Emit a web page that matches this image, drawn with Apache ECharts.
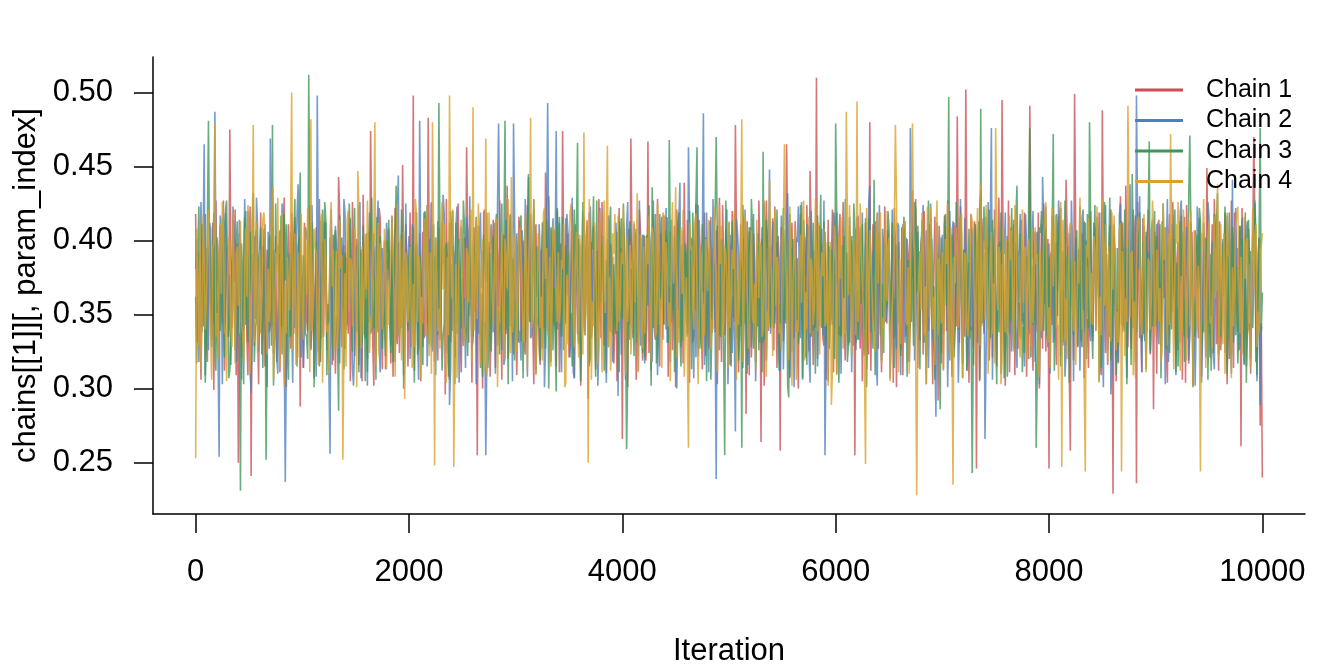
<!DOCTYPE html>
<html>
<head>
<meta charset="utf-8">
<script src="https://cdn.jsdelivr.net/npm/echarts@6/dist/echarts.min.js"></script>
<style>
html,body{margin:0;padding:0;background:#fff;}
#chart{width:1344px;height:672px;}
</style>
</head>
<body>
<div id="chart"></div>
<script>
// Thinned trace values, read/.
// chainN     : values at iterations 0, 20, 40, ... 10000
// chainNMid  : values at iterations 10, 30, 50, ... 9990
const iterationStep = 20;
const chainNames = ['Chain 1', 'Chain 2', 'Chain 3', 'Chain 4'];
const xTickValues = [0, 2000, 4000, 6000, 8000, 10000];
const yTickValues = [0.25, 0.30, 0.35, 0.40, 0.45, 0.50];

const chain1 = [
0.418,0.381,0.346,0.402,0.367,0.331,0.389,0.356,0.412,0.374,
0.338,0.395,0.362,0.427,0.349,0.383,0.475,0.341,0.372,0.309,
0.250,0.386,0.358,0.415,0.334,0.392,0.241,0.369,0.401,0.345,
0.377,0.323,0.408,0.361,0.384,0.342,0.436,0.355,0.318,0.391,
0.366,0.404,0.329,0.381,0.352,0.419,0.337,0.373,0.396,0.288,
0.359,0.412,0.347,0.385,0.326,0.398,0.364,0.341,0.428,0.371,
0.335,0.389,0.357,0.402,0.316,0.376,0.349,0.443,0.362,0.393,
0.327,0.368,0.411,0.353,0.384,0.339,0.397,0.361,0.305,0.378,
0.345,0.406,0.474,0.332,0.391,0.358,0.422,0.347,0.379,0.313,
0.386,0.353,0.417,0.368,0.337,0.399,0.362,0.451,0.344,0.381,
0.359,0.328,0.498,0.373,0.346,0.405,0.361,0.334,0.392,0.483,
0.342,0.387,0.318,0.371,0.409,0.353,0.384,0.296,0.366,0.412,
0.348,0.391,0.357,0.425,0.339,0.374,0.402,0.463,0.331,0.368,
0.396,0.352,0.255,0.383,0.364,0.419,0.341,0.377,0.308,0.389,
0.357,0.412,0.336,0.372,0.398,0.345,0.437,0.361,0.384,0.323,
0.376,0.349,0.403,0.367,0.331,0.391,0.354,0.418,0.342,0.385,
0.362,0.327,0.394,0.371,0.446,0.339,0.381,0.353,0.407,0.315,
0.374,0.398,0.474,0.346,0.363,0.321,0.389,0.356,0.411,0.337,
0.382,0.351,0.416,0.368,0.293,0.397,0.343,0.375,0.361,0.428,
0.334,0.386,0.358,0.401,0.345,0.372,0.317,0.393,0.364,0.349,
0.266,0.391,0.354,0.408,0.469,0.337,0.379,0.362,0.421,0.346,
0.383,0.319,0.467,0.369,0.395,0.341,0.374,0.352,0.405,0.333,
0.371,0.416,0.348,0.387,0.362,0.301,0.393,0.356,0.378,0.439,
0.343,0.369,0.402,0.331,0.385,0.357,0.414,0.346,0.374,0.322,
0.395,0.361,0.338,0.382,0.407,0.352,0.371,0.424,0.336,0.389,
0.357,0.315,0.392,0.478,0.344,0.379,0.363,0.401,0.283,0.372,
0.409,0.348,0.386,0.361,0.427,0.264,0.375,0.339,0.396,0.354,
0.382,0.326,0.369,0.403,0.258,0.391,0.351,0.465,0.342,0.378,
0.364,0.413,0.337,0.384,0.356,0.398,0.321,0.372,0.447,0.349,
0.393,0.510,0.358,0.381,0.334,0.406,0.367,0.345,0.389,0.311,
0.375,0.352,0.418,0.363,0.339,0.387,0.356,0.401,0.329,0.255,
0.384,0.347,0.395,0.366,0.412,0.338,0.480,0.371,0.353,0.392,
0.327,0.379,0.358,0.423,0.344,0.386,0.362,0.304,0.397,0.368,
0.351,0.409,0.376,0.335,0.391,0.357,0.434,0.342,0.383,0.366,
0.398,0.323,0.372,0.355,0.411,0.346,0.381,0.363,0.292,0.388,
0.361,0.417,0.339,0.375,0.402,0.353,0.386,0.484,0.331,0.367,
0.394,0.502,0.348,0.382,0.359,0.413,0.246,0.371,0.337,0.396,
0.355,0.381,0.319,0.404,0.368,0.345,0.391,0.362,0.495,0.336,
0.373,0.427,0.352,0.389,0.309,0.376,0.358,0.414,0.343,0.385,
0.366,0.491,0.338,0.397,0.354,0.419,0.371,0.327,0.383,0.359,
0.246,0.392,0.364,0.345,0.408,0.372,0.336,0.386,0.441,0.353,
0.258,0.378,0.499,0.357,0.393,0.332,0.369,0.412,0.347,0.384,
0.361,0.405,0.339,0.374,0.316,0.488,0.356,0.391,0.367,0.421,
0.229,0.382,0.354,0.398,0.343,0.371,0.437,0.328,0.389,0.362,
0.401,0.236,0.376,0.352,0.415,0.364,0.338,0.393,0.357,0.286,
0.372,0.411,0.346,0.384,0.361,0.329,0.397,0.355,0.426,0.341,
0.388,0.352,0.417,0.369,0.304,0.383,0.345,0.406,0.363,0.375,
0.334,0.396,0.358,0.381,0.449,0.347,0.371,0.324,0.392,0.366,
0.413,0.343,0.385,0.357,0.398,0.331,0.374,0.419,0.352,0.389,
0.261,0.367,0.404,0.339,0.382,0.356,0.470,0.318,0.391,0.275,
0.240
];
const chain1Mid = [
0.331,0.392,0.306,0.342,0.418,0.318,0.401,0.337,0.299,0.427,
0.326,0.410,0.344,0.312,0.396,0.335,0.389,0.414,0.421,0.398,
0.405,0.321,0.340,0.388,0.309,0.423,0.391,0.329,0.407,0.303,
0.419,0.345,0.315,0.394,0.338,0.386,0.324,0.403,0.333,0.311,
0.342,0.429,0.301,0.411,0.327,0.395,0.416,0.336,0.402,0.390,
0.314,0.387,0.339,0.424,0.343,0.307,0.409,0.325,0.318,0.399,
0.413,0.332,0.344,0.393,0.404,0.310,0.341,0.420,0.328,0.397,
0.389,0.337,0.305,0.426,0.322,0.401,0.316,0.392,0.431,0.334,
0.320,0.345,0.408,0.302,0.396,0.338,0.415,0.313,0.400,0.343,
0.394,0.317,0.308,0.422,0.330,0.324,0.341,0.388,0.411,0.315,
0.419,0.339,0.312,0.398,0.327,0.305,0.406,0.336,0.344,0.391,
0.425,0.387,0.402,0.319,0.333,0.412,0.395,0.428,0.308,0.331,
0.397,0.321,0.343,0.389,0.311,0.329,0.338,0.403,0.417,0.304,
0.409,0.393,0.386,0.335,0.300,0.421,0.325,0.399,0.342,0.414,
0.314,0.390,0.427,0.306,0.404,0.337,0.320,0.418,0.340,0.392,
0.309,0.416,0.332,0.400,0.323,0.424,0.345,0.388,0.303,0.411,
0.396,0.316,0.327,0.341,0.410,0.430,0.318,0.344,0.387,0.420,
0.311,0.336,0.394,0.415,0.405,0.328,0.423,0.307,0.391,0.401,
0.302,0.398,0.339,0.413,0.419,0.334,0.408,0.313,0.345,0.393,
0.426,0.329,0.310,0.402,0.338,0.389,0.342,0.305,0.422,0.395,
0.412,0.331,0.301,0.343,0.399,0.388,0.306,0.337,0.407,0.319,
0.403,0.344,0.324,0.312,0.418,0.333,0.428,0.315,0.392,0.417,
0.340,0.308,0.406,0.326,0.410,0.421,0.341,0.397,0.317,0.386,
0.414,0.304,0.400,0.335,0.425,0.322,0.391,0.313,0.419,0.343,
0.327,0.416,0.395,0.338,0.303,0.429,0.318,0.388,0.408,0.330,
0.398,0.420,0.345,0.404,0.311,0.411,0.336,0.394,0.413,0.309,
0.321,0.405,0.328,0.342,0.390,0.401,0.302,0.427,0.339,0.396,
0.415,0.423,0.314,0.387,0.409,0.332,0.344,0.399,0.307,0.412,
0.334,0.393,0.300,0.418,0.337,0.402,0.424,0.325,0.406,0.316,
0.341,0.320,0.410,0.397,0.329,0.306,0.414,0.343,0.421,0.389,
0.310,0.403,0.335,0.426,0.319,0.392,0.331,0.386,0.400,0.408,
0.417,0.327,0.305,0.340,0.395,0.323,0.312,0.411,0.338,0.419,
0.396,0.311,0.344,0.391,0.407,0.336,0.404,0.422,0.301,0.399,
0.326,0.309,0.413,0.401,0.318,0.345,0.388,0.428,0.314,0.333,
0.405,0.420,0.322,0.339,0.393,0.303,0.416,0.398,0.410,0.324,
0.313,0.402,0.427,0.331,0.308,0.412,0.342,0.387,0.423,0.317,
0.335,0.390,0.304,0.418,0.328,0.409,0.400,0.306,0.415,0.337,
0.407,0.396,0.344,0.321,0.421,0.315,0.429,0.330,0.394,0.302,
0.341,0.311,0.403,0.414,0.399,0.327,0.334,0.392,0.419,0.308,
0.320,0.413,0.312,0.406,0.338,0.300,0.411,0.425,0.325,0.401,
0.389,0.343,0.398,0.316,0.417,0.422,0.329,0.336,0.404,0.313,
0.410,0.319,0.408,0.328,0.395,0.405,0.307,0.342,0.314,0.420,
0.332,0.397,0.393,0.419,0.309,0.386,0.324,0.316,0.335,0.402,
0.404,0.305,0.318,0.430,0.412,0.339,0.400,0.413,0.327,0.341,
0.417,0.426,0.334,0.311,0.337,0.403,0.421,0.323,0.391,0.406,
0.310,0.414,0.329,0.394,0.409,0.304,0.418,0.340,0.399,0.322,
0.399,0.331,0.306,0.416,0.424,0.317,0.345,0.302,0.407,0.398,
0.415,0.308,0.401,0.336,0.390,0.321,0.411,0.428,0.330,0.312,
0.326,0.389,0.419,0.303,0.320,0.427,0.314,0.405,0.338,0.410,
0.422,0.333,0.315,0.408,0.310,0.395,0.412,0.326,0.402,0.344
];
const chain2 = [
0.381,0.352,0.397,0.338,0.465,0.371,0.326,0.408,0.359,0.487,
0.344,0.254,0.386,0.363,0.419,0.335,0.377,0.351,0.402,0.318,
0.369,0.392,0.341,0.428,0.356,0.383,0.297,0.374,0.347,0.411,
0.362,0.337,0.389,0.353,0.406,0.469,0.342,0.378,0.321,0.395,
0.358,0.413,0.237,0.384,0.366,0.344,0.399,0.372,0.438,0.339,
0.376,0.348,0.404,0.361,0.327,0.391,0.355,0.498,0.368,0.334,
0.387,0.412,0.349,0.256,0.381,0.363,0.397,0.331,0.372,0.354,
0.418,0.343,0.379,0.358,0.302,0.393,0.367,0.426,0.345,0.382,
0.361,0.398,0.337,0.374,0.352,0.409,0.329,0.386,0.363,0.344,
0.392,0.357,0.415,0.338,0.376,0.444,0.351,0.383,0.319,0.369,
0.403,0.346,0.372,0.391,0.335,0.481,0.358,0.381,0.412,0.341,
0.367,0.325,0.389,0.354,0.398,0.362,0.431,0.347,0.376,0.289,
0.384,0.356,0.409,0.371,0.338,0.393,0.361,0.416,0.349,0.375,
0.332,0.387,0.354,0.401,0.368,0.343,0.255,0.379,0.396,0.357,
0.412,0.346,0.479,0.365,0.383,0.321,0.394,0.358,0.373,0.479,
0.352,0.386,0.339,0.407,0.362,0.378,0.445,0.334,0.369,0.391,
0.348,0.411,0.357,0.381,0.326,0.493,0.364,0.398,0.342,0.474,
0.371,0.336,0.392,0.355,0.418,0.367,0.383,0.311,0.376,0.353,
0.397,0.362,0.342,0.385,0.358,0.423,0.347,0.374,0.393,0.328,
0.366,0.403,0.351,0.379,0.339,0.391,0.357,0.412,0.295,0.374,
0.388,0.345,0.408,0.363,0.381,0.334,0.396,0.352,0.427,0.361,
0.343,0.377,0.356,0.399,0.318,0.384,0.366,0.348,0.405,0.372,
0.395,0.331,0.369,0.414,0.353,0.387,0.342,0.439,0.361,0.378,
0.354,0.463,0.382,0.339,0.401,0.365,0.327,0.392,0.486,0.348,
0.376,0.413,0.352,0.386,0.239,0.371,0.397,0.344,0.368,0.421,
0.337,0.389,0.362,0.271,0.405,0.353,0.381,0.346,0.393,0.316,
0.374,0.358,0.417,0.342,0.385,0.369,0.331,0.402,0.356,0.448,
0.363,0.394,0.345,0.378,0.312,0.389,0.352,0.411,0.367,0.338,
0.382,0.354,0.399,0.371,0.426,0.343,0.376,0.359,0.304,0.393,
0.348,0.407,0.365,0.384,0.336,0.255,0.372,0.396,0.351,0.419,
0.369,0.338,0.387,0.356,0.403,0.374,0.329,0.391,0.362,0.345,
0.416,0.359,0.381,0.342,0.397,0.366,0.437,0.353,0.378,0.322,
0.385,0.347,0.408,0.371,0.354,0.392,0.333,0.379,0.361,0.412,
0.351,0.386,0.367,0.402,0.344,0.476,0.375,0.319,0.393,0.358,
0.371,0.424,0.346,0.384,0.363,0.398,0.337,0.281,0.389,0.355,
0.404,0.361,0.392,0.348,0.377,0.413,0.352,0.386,0.339,0.372,
0.357,0.395,0.323,0.369,0.408,0.346,0.381,0.362,0.434,0.343,
0.266,0.377,0.355,0.476,0.386,0.341,0.372,0.399,0.358,0.391,
0.345,0.382,0.409,0.352,0.367,0.314,0.394,0.374,0.351,0.418,
0.363,0.337,0.388,0.365,0.402,0.349,0.376,0.443,0.357,0.384,
0.398,0.353,0.331,0.391,0.366,0.411,0.345,0.379,0.307,0.372,
0.356,0.396,0.369,0.343,0.387,0.362,0.421,0.351,0.382,0.339,
0.377,0.412,0.348,0.391,0.358,0.335,0.404,0.367,0.384,0.296,
0.362,0.389,0.351,0.417,0.373,0.343,0.395,0.358,0.438,0.366,
0.347,0.498,0.381,0.356,0.399,0.332,0.374,0.364,0.407,0.352,
0.386,0.341,0.372,0.413,0.355,0.392,0.318,0.378,0.361,0.401,
0.354,0.383,0.427,0.346,0.369,0.395,0.337,0.388,0.362,0.345,
0.408,0.365,0.339,0.382,0.353,0.416,0.371,0.324,0.394,0.357,
0.374,0.348,0.402,0.363,0.387,0.335,0.441,0.359,0.381,0.326,
0.396,0.352,0.378,0.413,0.344,0.367,0.391,0.338,0.357,0.289,
0.341
];
const chain2Mid = [
0.401,0.318,0.426,0.337,0.309,0.395,0.412,0.328,0.344,0.389,
0.322,0.417,0.303,0.408,0.391,0.340,0.316,0.423,0.398,0.331,
0.414,0.306,0.386,0.343,0.420,0.312,0.335,0.403,0.429,0.325,
0.338,0.396,0.411,0.301,0.327,0.418,0.394,0.345,0.310,0.407,
0.425,0.333,0.319,0.390,0.406,0.304,0.341,0.416,0.388,0.321,
0.314,0.409,0.399,0.332,0.424,0.339,0.308,0.392,0.413,0.342,
0.393,0.326,0.305,0.421,0.336,0.410,0.387,0.317,0.402,0.428,
0.345,0.400,0.415,0.313,0.330,0.397,0.422,0.307,0.389,0.334,
0.302,0.419,0.340,0.405,0.323,0.427,0.311,0.395,0.343,0.412,
0.408,0.329,0.392,0.318,0.416,0.337,0.404,0.300,0.425,0.386,
0.320,0.411,0.344,0.398,0.306,0.390,0.328,0.420,0.315,0.401,
0.426,0.335,0.309,0.413,0.341,0.396,0.418,0.324,0.399,0.312,
0.339,0.388,0.423,0.304,0.409,0.332,0.314,0.407,0.430,0.327,
0.396,0.303,0.337,0.419,0.393,0.345,0.322,0.389,0.411,0.338,
0.310,0.424,0.401,0.326,0.316,0.414,0.387,0.342,0.305,0.417,
0.405,0.331,0.319,0.394,0.428,0.308,0.403,0.336,0.421,0.313,
0.343,0.391,0.412,0.301,0.325,0.400,0.334,0.415,0.388,0.340,
0.416,0.311,0.387,0.344,0.406,0.321,0.429,0.307,0.397,0.330,
0.327,0.420,0.336,0.402,0.315,0.389,0.410,0.341,0.302,0.422,
0.390,0.339,0.304,0.417,0.398,0.318,0.345,0.392,0.413,0.323,
0.408,0.306,0.426,0.333,0.342,0.411,0.391,0.312,0.329,0.404,
0.317,0.395,0.409,0.323,0.427,0.335,0.309,0.418,0.386,0.344,
0.422,0.341,0.318,0.388,0.403,0.300,0.414,0.328,0.407,0.392,
0.335,0.412,0.393,0.307,0.321,0.424,0.337,0.399,0.316,0.419,
0.311,0.387,0.428,0.340,0.410,0.326,0.401,0.343,0.396,0.303,
0.404,0.324,0.338,0.415,0.389,0.342,0.314,0.421,0.331,0.406,
0.328,0.418,0.305,0.397,0.331,0.409,0.425,0.319,0.390,0.337,
0.413,0.344,0.399,0.320,0.417,0.313,0.388,0.432,0.308,0.395,
0.301,0.402,0.423,0.334,0.306,0.392,0.411,0.325,0.420,0.339,
0.391,0.315,0.342,0.408,0.427,0.330,0.305,0.397,0.343,0.414,
0.419,0.336,0.310,0.386,0.402,0.341,0.416,0.311,0.400,0.326,
0.333,0.405,0.419,0.322,0.313,0.426,0.338,0.393,0.413,0.302,
0.424,0.319,0.396,0.345,0.390,0.307,0.421,0.334,0.327,0.410,
0.309,0.411,0.331,0.403,0.318,0.417,0.389,0.340,0.406,0.393,
0.398,0.342,0.407,0.314,0.425,0.336,0.323,0.412,0.388,0.317,
0.337,0.394,0.301,0.420,0.399,0.327,0.410,0.304,0.428,0.341,
0.415,0.312,0.385,0.339,0.316,0.404,0.331,0.422,0.344,0.392,
0.321,0.426,0.414,0.306,0.408,0.343,0.396,0.310,0.401,0.419,
0.403,0.337,0.325,0.411,0.330,0.389,0.418,0.345,0.315,0.397,
0.344,0.391,0.420,0.318,0.406,0.303,0.334,0.413,0.423,0.328,
0.310,0.416,0.336,0.399,0.427,0.322,0.393,0.308,0.340,0.405,
0.427,0.305,0.402,0.329,0.312,0.415,0.338,0.400,0.387,0.332,
0.335,0.408,0.389,0.343,0.419,0.301,0.424,0.326,0.410,0.314,
0.400,0.322,0.317,0.425,0.394,0.339,0.307,0.418,0.333,0.421,
0.318,0.413,0.430,0.311,0.338,0.406,0.392,0.324,0.414,0.342,
0.411,0.330,0.341,0.397,0.303,0.428,0.317,0.401,0.386,0.309,
0.326,0.419,0.394,0.335,0.409,0.319,0.412,0.344,0.302,0.423,
0.392,0.304,0.412,0.321,0.426,0.337,0.399,0.313,0.418,0.336,
0.343,0.401,0.324,0.417,0.388,0.310,0.331,0.422,0.395,0.328,
0.415,0.316,0.407,0.340,0.320,0.403,0.427,0.305,0.391,0.341
];
const chain3 = [
0.362,0.394,0.347,0.411,0.373,0.336,0.481,0.358,0.389,0.327,
0.402,0.356,0.378,0.343,0.421,0.367,0.312,0.385,0.354,0.397,
0.338,0.231,0.376,0.409,0.351,0.388,0.364,0.432,0.342,0.371,
0.393,0.355,0.381,0.252,0.367,0.404,0.478,0.339,0.384,0.359,
0.417,0.346,0.373,0.325,0.392,0.361,0.403,0.348,0.379,0.446,
0.354,0.387,0.335,0.512,0.369,0.398,0.343,0.376,0.315,0.391,
0.363,0.414,0.352,0.384,0.337,0.401,0.368,0.285,0.379,0.356,
0.392,0.341,0.425,0.366,0.383,0.348,0.397,0.359,0.331,0.373,
0.405,0.362,0.387,0.343,0.376,0.416,0.351,0.389,0.364,0.322,
0.381,0.354,0.398,0.369,0.437,0.345,0.372,0.393,0.338,0.361,
0.386,0.347,0.409,0.375,0.323,0.391,0.356,0.419,0.367,0.342,
0.374,0.401,0.349,0.383,0.493,0.358,0.336,0.395,0.371,0.306,
0.389,0.363,0.412,0.347,0.378,0.355,0.428,0.341,0.384,0.369,
0.335,0.397,0.358,0.381,0.346,0.404,0.372,0.314,0.392,0.357,
0.374,0.418,0.352,0.385,0.339,0.481,0.366,0.395,0.348,0.383,
0.361,0.332,0.407,0.354,0.389,0.372,0.443,0.345,0.378,0.357,
0.396,0.344,0.371,0.413,0.327,0.386,0.359,0.402,0.368,0.298,
0.382,0.357,0.416,0.343,0.374,0.392,0.351,0.387,0.364,0.466,
0.339,0.381,0.355,0.403,0.368,0.321,0.394,0.346,0.427,0.372,
0.358,0.391,0.343,0.375,0.409,0.352,0.384,0.337,0.366,0.398,
0.347,0.383,0.259,0.371,0.412,0.356,0.395,0.331,0.378,0.362,
0.404,0.342,0.388,0.359,0.436,0.373,0.317,0.391,0.354,0.381,
0.366,0.397,0.468,0.345,0.379,0.358,0.411,0.336,0.387,0.363,
0.391,0.348,0.372,0.419,0.353,0.463,0.381,0.327,0.365,0.402,
0.356,0.384,0.343,0.397,0.470,0.371,0.335,0.389,0.255,0.376,
0.412,0.362,0.348,0.386,0.374,0.339,0.260,0.395,0.358,0.381,
0.344,0.408,0.367,0.389,0.326,0.375,0.460,0.352,0.398,0.363,
0.385,0.341,0.373,0.421,0.357,0.392,0.346,0.379,0.294,0.368,
0.401,0.355,0.388,0.342,0.377,0.414,0.361,0.396,0.338,0.372,
0.353,0.389,0.365,0.431,0.348,0.382,0.369,0.327,0.394,0.359,
0.479,0.374,0.342,0.397,0.361,0.386,0.318,0.378,0.352,0.408,
0.366,0.393,0.357,0.342,0.415,0.373,0.389,0.346,0.441,0.361,
0.384,0.336,0.371,0.398,0.355,0.409,0.362,0.381,0.313,0.394,
0.347,0.378,0.416,0.358,0.387,0.343,0.372,0.426,0.365,0.351,
0.392,0.361,0.338,0.383,0.354,0.401,0.369,0.345,0.388,0.286,
0.375,0.411,0.356,0.497,0.366,0.392,0.341,0.379,0.358,0.404,
0.352,0.387,0.369,0.334,0.243,0.381,0.357,0.413,0.489,0.346,
0.394,0.363,0.421,0.352,0.376,0.338,0.397,0.362,0.384,0.307,
0.371,0.399,0.345,0.386,0.358,0.437,0.364,0.391,0.342,0.377,
0.356,0.476,0.383,0.348,0.260,0.372,0.405,0.361,0.394,0.337,
0.388,0.352,0.472,0.376,0.349,0.412,0.365,0.383,0.329,0.396,
0.358,0.381,0.346,0.407,0.372,0.336,0.391,0.363,0.418,0.480,
0.347,0.385,0.362,0.399,0.339,0.374,0.426,0.355,0.388,0.319,
0.379,0.362,0.395,0.351,0.413,0.367,0.344,0.386,0.358,0.445,
0.371,0.338,0.393,0.364,0.381,0.347,0.404,0.467,0.356,0.389,
0.342,0.376,0.411,0.359,0.384,0.327,0.398,0.368,0.352,0.421,
0.385,0.349,0.372,0.406,0.361,0.334,0.471,0.381,0.357,0.393,
0.368,0.413,0.345,0.379,0.398,0.355,0.312,0.387,0.364,0.432,
0.351,0.384,0.362,0.396,0.343,0.375,0.409,0.357,0.382,0.338,
0.397,0.366,0.419,0.351,0.384,0.343,0.372,0.405,0.361,0.476,
0.365
];
const chain3Mid = [
0.317,0.423,0.341,0.396,0.304,0.410,0.388,0.333,0.419,0.312,
0.402,0.339,0.415,0.321,0.427,0.307,0.342,0.391,0.326,0.413,
0.336,0.398,0.303,0.420,0.331,0.406,0.414,0.318,0.345,0.387,
0.409,0.314,0.392,0.338,0.401,0.329,0.302,0.425,0.397,0.340,
0.323,0.418,0.411,0.306,0.335,0.393,0.428,0.315,0.404,0.343,
0.390,0.337,0.320,0.416,0.412,0.301,0.399,0.344,0.330,0.421,
0.426,0.309,0.345,0.389,0.319,0.407,0.332,0.417,0.386,0.313,
0.340,0.403,0.396,0.325,0.422,0.338,0.311,0.394,0.410,0.305,
0.311,0.388,0.429,0.341,0.306,0.415,0.403,0.327,0.342,0.400,
0.414,0.324,0.318,0.408,0.393,0.335,0.421,0.309,0.389,0.339,
0.397,0.343,0.304,0.419,0.326,0.391,0.316,0.413,0.424,0.330,
0.328,0.411,0.389,0.336,0.405,0.312,0.344,0.398,0.317,0.420,
0.420,0.303,0.337,0.401,0.341,0.427,0.392,0.322,0.408,0.345,
0.334,0.416,0.410,0.314,0.308,0.394,0.419,0.338,0.325,0.403,
0.406,0.329,0.323,0.425,0.399,0.340,0.303,0.417,0.388,0.319,
0.342,0.395,0.417,0.307,0.331,0.412,0.396,0.344,0.428,0.310,
0.389,0.319,0.402,0.343,0.414,0.300,0.409,0.326,0.336,0.422,
0.412,0.335,0.326,0.397,0.388,0.344,0.315,0.421,0.404,0.332,
0.305,0.426,0.345,0.410,0.317,0.399,0.430,0.308,0.339,0.391,
0.398,0.312,0.387,0.328,0.423,0.336,0.343,0.406,0.311,0.415,
0.425,0.340,0.309,0.413,0.393,0.322,0.408,0.337,0.402,0.324,
0.321,0.404,0.424,0.302,0.341,0.418,0.327,0.390,0.416,0.343,
0.407,0.331,0.395,0.345,0.311,0.403,0.419,0.315,0.332,0.398,
0.337,0.420,0.313,0.391,0.426,0.328,0.338,0.411,0.389,0.305,
0.392,0.306,0.342,0.417,0.404,0.339,0.401,0.323,0.427,0.336,
0.316,0.413,0.400,0.334,0.319,0.386,0.424,0.344,0.310,0.409,
0.428,0.327,0.318,0.405,0.397,0.311,0.333,0.414,0.394,0.341,
0.343,0.389,0.421,0.312,0.340,0.422,0.407,0.302,0.418,0.325,
0.401,0.338,0.330,0.424,0.307,0.396,0.316,0.410,0.335,0.412,
0.310,0.417,0.393,0.341,0.413,0.332,0.399,0.345,0.387,0.320,
0.419,0.304,0.336,0.398,0.428,0.318,0.342,0.403,0.425,0.331,
0.333,0.409,0.411,0.323,0.301,0.415,0.390,0.327,0.309,0.400,
0.405,0.344,0.324,0.388,0.420,0.339,0.412,0.314,0.397,0.343,
0.322,0.396,0.415,0.308,0.337,0.406,0.329,0.421,0.410,0.313,
0.414,0.331,0.303,0.427,0.394,0.345,0.306,0.392,0.333,0.402,
0.339,0.418,0.387,0.319,0.404,0.321,0.426,0.340,0.416,0.307,
0.394,0.312,0.408,0.342,0.329,0.411,0.396,0.305,0.344,0.423,
0.416,0.340,0.334,0.414,0.391,0.303,0.338,0.419,0.401,0.326,
0.308,0.399,0.422,0.327,0.417,0.336,0.405,0.311,0.324,0.389,
0.425,0.321,0.343,0.393,0.310,0.409,0.420,0.339,0.408,0.331,
0.345,0.407,0.312,0.418,0.398,0.315,0.331,0.427,0.388,0.304,
0.388,0.336,0.396,0.341,0.423,0.328,0.413,0.320,0.341,0.416,
0.320,0.424,0.416,0.305,0.314,0.402,0.389,0.344,0.429,0.337,
0.411,0.309,0.329,0.406,0.338,0.421,0.303,0.400,0.316,0.395,
0.340,0.392,0.419,0.332,0.410,0.313,0.416,0.326,0.342,0.420,
0.403,0.345,0.307,0.425,0.387,0.337,0.324,0.411,0.398,0.311,
0.315,0.413,0.395,0.318,0.342,0.428,0.409,0.301,0.335,0.404,
0.422,0.330,0.338,0.402,0.306,0.391,0.343,0.418,0.412,0.323,
0.335,0.398,0.423,0.310,0.419,0.322,0.397,0.336,0.317,0.410,
0.401,0.317,0.304,0.414,0.393,0.341,0.425,0.309,0.406,0.338
];
const chain4 = [
0.253,0.374,0.412,0.346,0.388,0.359,0.421,0.337,0.395,0.479,
0.351,0.383,0.364,0.407,0.342,0.376,0.398,0.328,0.369,0.391,
0.356,0.413,0.338,0.385,0.362,0.401,0.347,0.478,0.372,0.324,
0.394,0.365,0.419,0.348,0.381,0.357,0.436,0.342,0.378,0.359,
0.402,0.333,0.371,0.389,0.353,0.500,0.367,0.316,0.392,0.375,
0.346,0.409,0.363,0.384,0.482,0.352,0.397,0.339,0.374,0.418,
0.361,0.388,0.343,0.405,0.369,0.327,0.393,0.356,0.381,0.252,
0.378,0.414,0.352,0.386,0.341,0.372,0.447,0.358,0.396,0.335,
0.367,0.391,0.349,0.408,0.480,0.363,0.322,0.385,0.354,0.399,
0.373,0.342,0.416,0.361,0.387,0.348,0.402,0.369,0.293,0.381,
0.357,0.396,0.371,0.428,0.345,0.383,0.362,0.407,0.336,0.374,
0.392,0.480,0.248,0.379,0.354,0.411,0.367,0.343,0.389,0.498,
0.361,0.247,0.384,0.356,0.403,0.372,0.338,0.395,0.358,0.421,
0.490,0.366,0.347,0.389,0.374,0.311,0.469,0.352,0.398,0.363,
0.382,0.415,0.356,0.373,0.339,0.401,0.368,0.387,0.443,0.349,
0.376,0.358,0.409,0.365,0.331,0.392,0.371,0.483,0.354,0.386,
0.345,0.397,0.362,0.418,0.374,0.336,0.389,0.353,0.406,0.368,
0.392,0.357,0.381,0.301,0.377,0.364,0.425,0.348,0.383,0.366,
0.404,0.342,0.473,0.371,0.250,0.388,0.359,0.412,0.346,0.379,
0.363,0.397,0.351,0.464,0.375,0.334,0.391,0.368,0.417,0.355,
0.384,0.349,0.402,0.366,0.323,0.389,0.358,0.432,0.372,0.341,
0.396,0.367,0.384,0.351,0.409,0.377,0.338,0.393,0.361,0.419,
0.345,0.382,0.358,0.398,0.371,0.436,0.353,0.386,0.364,0.308,
0.375,0.260,0.394,0.356,0.412,0.369,0.341,0.388,0.357,0.401,
0.366,0.391,0.347,0.423,0.378,0.352,0.384,0.335,0.396,0.372,
0.413,0.359,0.381,0.344,0.392,0.367,0.482,0.356,0.407,0.327,
0.386,0.348,0.371,0.414,0.361,0.395,0.339,0.378,0.352,0.441,
0.367,0.392,0.356,0.383,0.344,0.401,0.465,0.362,0.319,0.387,
0.371,0.409,0.346,0.384,0.358,0.427,0.365,0.393,0.337,0.379,
0.354,0.388,0.412,0.361,0.376,0.342,0.399,0.368,0.289,0.384,
0.397,0.357,0.374,0.416,0.351,0.487,0.363,0.389,0.345,0.378,
0.494,0.362,0.391,0.353,0.249,0.384,0.407,0.366,0.342,0.395,
0.371,0.419,0.348,0.386,0.359,0.402,0.337,0.374,0.478,0.356,
0.388,0.363,0.411,0.345,0.382,0.367,0.479,0.392,0.228,0.376,
0.353,0.397,0.369,0.423,0.348,0.381,0.362,0.404,0.336,0.375,
0.392,0.357,0.384,0.341,0.409,0.235,0.371,0.396,0.354,0.418,
0.366,0.389,0.335,0.377,0.413,0.358,0.394,0.349,0.438,0.372,
0.347,0.385,0.362,0.406,0.371,0.476,0.353,0.391,0.318,0.379,
0.401,0.364,0.387,0.352,0.424,0.369,0.341,0.383,0.358,0.396,
0.372,0.349,0.408,0.366,0.384,0.312,0.393,0.357,0.415,0.368,
0.355,0.391,0.369,0.417,0.343,0.382,0.247,0.398,0.361,0.376,
0.412,0.358,0.386,0.344,0.371,0.395,0.353,0.244,0.389,0.366,
0.378,0.403,0.341,0.384,0.362,0.429,0.356,0.373,0.396,0.332,
0.367,0.389,0.352,0.408,0.244,0.376,0.361,0.491,0.348,0.393,
0.359,0.382,0.416,0.347,0.374,0.399,0.338,0.385,0.364,0.411,
0.351,0.394,0.368,0.326,0.387,0.363,0.405,0.472,0.357,0.381,
0.398,0.345,0.376,0.421,0.359,0.388,0.342,0.373,0.407,0.364,
0.383,0.244,0.396,0.357,0.372,0.413,0.349,0.386,0.361,0.438,
0.344,0.379,0.405,0.366,0.391,0.353,0.382,0.341,0.418,0.372,
0.389,0.358,0.374,0.402,0.336,0.385,0.367,0.411,0.352,0.394,
0.405
];
const chain4Mid = [
0.408,0.329,0.313,0.417,0.340,0.393,0.421,0.306,0.398,0.335,
0.320,0.411,0.426,0.337,0.305,0.402,0.339,0.419,0.317,0.396,
0.394,0.343,0.318,0.409,0.424,0.310,0.387,0.331,0.413,0.342,
0.337,0.414,0.401,0.323,0.345,0.420,0.307,0.392,0.429,0.315,
0.419,0.302,0.337,0.389,0.411,0.326,0.405,0.341,0.321,0.418,
0.333,0.396,0.422,0.311,0.339,0.408,0.391,0.316,0.413,0.304,
0.401,0.338,0.310,0.426,0.394,0.344,0.327,0.414,0.390,0.332,
0.315,0.420,0.388,0.342,0.409,0.301,0.423,0.327,0.336,0.404,
0.427,0.324,0.341,0.399,0.316,0.412,0.398,0.340,0.408,0.313,
0.343,0.392,0.416,0.308,0.425,0.335,0.319,0.406,0.392,0.345,
0.396,0.314,0.328,0.418,0.390,0.307,0.344,0.415,0.424,0.322,
0.310,0.407,0.402,0.339,0.327,0.426,0.411,0.304,0.336,0.397,
0.421,0.336,0.307,0.393,0.414,0.329,0.343,0.390,0.412,0.318,
0.339,0.415,0.425,0.316,0.401,0.340,0.309,0.419,0.395,0.342,
0.412,0.301,0.344,0.406,0.320,0.388,0.428,0.324,0.338,0.403,
0.325,0.398,0.394,0.333,0.417,0.312,0.402,0.341,0.427,0.309,
0.405,0.341,0.319,0.422,0.395,0.337,0.315,0.410,0.387,0.345,
0.344,0.387,0.411,0.304,0.330,0.419,0.399,0.328,0.406,0.321,
0.390,0.323,0.336,0.414,0.428,0.306,0.342,0.397,0.317,0.420,
0.311,0.427,0.400,0.329,0.312,0.405,0.418,0.339,0.345,0.392,
0.423,0.309,0.345,0.397,0.340,0.413,0.389,0.311,0.404,0.327,
0.337,0.402,0.417,0.318,0.403,0.335,0.425,0.343,0.314,0.416,
0.399,0.342,0.305,0.426,0.387,0.321,0.331,0.409,0.421,0.338,
0.318,0.412,0.396,0.340,0.418,0.303,0.395,0.325,0.336,0.401,
0.414,0.327,0.340,0.389,0.311,0.424,0.410,0.344,0.392,0.314,
0.341,0.394,0.420,0.306,0.343,0.398,0.318,0.417,0.406,0.329,
0.407,0.344,0.312,0.413,0.399,0.335,0.427,0.308,0.341,0.395,
0.322,0.420,0.389,0.337,0.326,0.412,0.393,0.339,0.423,0.302,
0.396,0.306,0.338,0.404,0.415,0.319,0.340,0.416,0.388,0.343,
0.428,0.339,0.323,0.392,0.408,0.345,0.302,0.399,0.313,0.410,
0.309,0.403,0.416,0.327,0.337,0.414,0.424,0.322,0.401,0.336,
0.345,0.425,0.391,0.314,0.422,0.331,0.387,0.343,0.325,0.418,
0.403,0.317,0.341,0.420,0.396,0.305,0.336,0.409,0.428,0.311,
0.330,0.408,0.413,0.343,0.310,0.418,0.402,0.324,0.339,0.393,
0.419,0.336,0.303,0.395,0.423,0.340,0.316,0.427,0.388,0.344,
0.312,0.401,0.425,0.320,0.339,0.389,0.409,0.341,0.413,0.307,
0.392,0.343,0.334,0.418,0.405,0.315,0.422,0.329,0.342,0.400,
0.424,0.310,0.390,0.337,0.317,0.411,0.396,0.303,0.409,0.338,
0.336,0.417,0.407,0.325,0.414,0.342,0.321,0.421,0.394,0.319,
0.401,0.328,0.344,0.409,0.391,0.308,0.339,0.403,0.426,0.331,
0.314,0.422,0.397,0.341,0.306,0.426,0.414,0.333,0.320,0.407,
0.410,0.339,0.316,0.388,0.429,0.340,0.303,0.397,0.415,0.344,
0.343,0.394,0.423,0.304,0.336,0.400,0.411,0.318,0.338,0.419,
0.417,0.326,0.331,0.412,0.393,0.322,0.345,0.421,0.391,0.309,
0.307,0.414,0.402,0.336,0.418,0.311,0.388,0.340,0.427,0.335,
0.394,0.345,0.317,0.425,0.408,0.329,0.343,0.405,0.313,0.411,
0.426,0.312,0.338,0.397,0.319,0.413,0.420,0.301,0.401,0.339,
0.339,0.405,0.428,0.314,0.402,0.344,0.327,0.416,0.395,0.320,
0.411,0.330,0.310,0.419,0.389,0.307,0.342,0.410,0.423,0.337,
0.323,0.416,0.399,0.341,0.315,0.422,0.404,0.328,0.337,0.396
];

const chainValues = [chain1, chain2, chain3, chain4];
const chainMidValues = [chain1Mid, chain2Mid, chain3Mid, chain4Mid];
const chainColors = ['#c94f52', '#4f80bd', '#3f9658', '#d9a22c'];
const FONT = '"Liberation Sans", Arial, Helvetica, sans-serif';

// merge the two sampled value lists of a chain in iteration order
function traceData(vals, mids) {
  const out = [];
  for (let i = 0; i < vals.length; i++) {
    out.push([i * iterationStep, vals[i]]);
    if (i < mids.length && i < vals.length - 1) out.push([i * iterationStep + iterationStep / 2, mids[i]]);
  }
  return out;
}

const chart = echarts.init(document.getElementById('chart'), null, {renderer: 'canvas'});

const series = chainValues.map((vals, k) => ({
  name: chainNames[k],
  type: 'line',
  data: traceData(vals, chainMidValues[k]),
  showSymbol: false,
  symbol: 'none',
  animation: false,
  silent: true,
  lineStyle: {color: chainColors[k], width: 1.6, opacity: 0.78},
  itemStyle: {color: chainColors[k]},
  z: 2 + k
}));

chart.setOption({
  backgroundColor: '#ffffff',
  animation: false,
  textStyle: {fontFamily: FONT},
  grid: {left: 153, right: 39, top: 57, bottom: 152, containLabel: false},
  legend: {
    orient: 'vertical',
    left: 1135,
    top: 75,
    padding: 0,
    itemWidth: 48,
    itemHeight: 3,
    itemGap: 0.5,
    icon: 'rect',
    data: chainNames,
    selectedMode: false,
    textStyle: {fontFamily: FONT, fontSize: 25, color: '#000', lineHeight: 30, padding: [0, 0, 0, 18]},
    z: 10
  },
  xAxis: {
    type: 'value',
    min: -400,
    max: 10400,
    name: 'Iteration',
    nameLocation: 'middle',
    nameGap: 122,
    nameTextStyle: {fontFamily: FONT, fontSize: 31, color: '#000'},
    axisLine: {show: true, onZero: false, lineStyle: {color: '#000', width: 1.5}},
    axisTick: {show: true, inside: false, length: 19, customValues: xTickValues, lineStyle: {color: '#000', width: 1.5}},
    axisLabel: {show: true, margin: 43, customValues: xTickValues, fontFamily: FONT, fontSize: 31, color: '#000', formatter: v => String(v)},
    splitLine: {show: false}
  },
  yAxis: {
    type: 'value',
    min: 0.2153,
    max: 0.524,
    name: 'chains[[1]][, param_index]',
    nameLocation: 'middle',
    nameGap: 110,
    nameRotate: 90,
    nameTextStyle: {fontFamily: FONT, fontSize: 31, color: '#000'},
    axisLine: {show: true, onZero: false, lineStyle: {color: '#000', width: 1.5}},
    axisTick: {show: true, inside: false, length: 19, customValues: yTickValues, lineStyle: {color: '#000', width: 1.5}},
    axisLabel: {show: true, margin: 40, customValues: yTickValues, fontFamily: FONT, fontSize: 31, color: '#000', formatter: v => v.toFixed(2)},
    splitLine: {show: false}
  },
  series: series
});
</script>
</body>
</html>
